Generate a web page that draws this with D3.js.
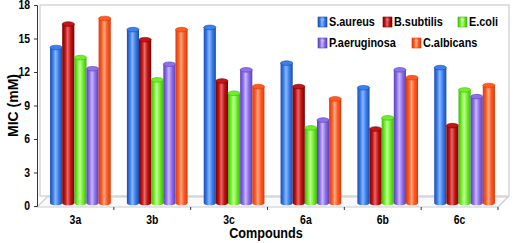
<!DOCTYPE html>
<html>
<head>
<meta charset="utf-8">
<script src="https://cdn.jsdelivr.net/npm/d3@7"></script>
<style>
  body { margin: 0; background: #fff; }
  #chart { width: 520px; height: 243px; }
  text { font-family: "Liberation Sans", Arial, sans-serif; font-weight: bold; fill: #000; }
</style>
</head>
<body>
<div id="chart"></div>
<script>
// chart data
const compounds = ['3a', '3b', '3c', '6a', '6b', '6c'];
const organisms = ['S.aureus', 'B.subtilis', 'E.coli', 'P.aeruginosa', 'C.albicans'];
const sAureus = [14.4, 16.0, 16.2, 13.0, 10.8, 12.6];
const bSubtilis = [16.5, 15.1, 11.4, 10.9, 7.1, 7.4];
const eColi = [13.5, 11.5, 10.3, 7.2, 8.1, 10.6];
const pAeruginosa = [12.5, 12.9, 12.4, 7.9, 12.4, 10.0];
const cAlbicans = [17.0, 16.0, 10.9, 9.8, 11.7, 11.0];
const yTicks = [0, 3, 6, 9, 12, 15, 18];

const seriesValues = [sAureus, bSubtilis, eColi, pAeruginosa, cAlbicans];

// colours: [edge, mid, highlight]
const colors = [
  ['#1c4aa8', '#3b80ee', '#8ab6ff'],
  ['#7a0000', '#c41414', '#e66a6a'],
  ['#3fb80c', '#70f02a', '#c4ff9a'],
  ['#5a3fb8', '#8d70ea', '#c9b8ff'],
  ['#d93a0c', '#ff5a22', '#ffab88']
];

const width = 520;
const height = 243;
const margin = { top: 5, right: 12, bottom: 37, left: 37 };
const depth = { dx: 10, dy: -10 };
const squeeze = 0.87; // the picture's text is a bit narrow

const svg = d3.select('#chart').append('svg')
  .attr('width', width)
  .attr('height', height);

const defs = svg.append('defs');
colors.forEach((c, i) => {
  const g = defs.append('linearGradient')
    .attr('id', 'grad' + i)
    .attr('x1', '0%').attr('x2', '100%').attr('y1', '0%').attr('y2', '0%');
  g.append('stop').attr('offset', '0%').attr('stop-color', c[0]);
  g.append('stop').attr('offset', '25%').attr('stop-color', c[1]);
  g.append('stop').attr('offset', '45%').attr('stop-color', c[2]);
  g.append('stop').attr('offset', '70%').attr('stop-color', c[1]);
  g.append('stop').attr('offset', '100%').attr('stop-color', c[0]);
});

const x0 = d3.scaleBand()
  .domain(compounds)
  .range([margin.left, width - margin.right - depth.dx])
  .paddingInner(0.21)
  .paddingOuter(0.105);

const x1 = d3.scaleBand()
  .domain(organisms)
  .range([0, x0.bandwidth()]);

const y = d3.scaleLinear()
  .domain([0, 18])
  .range([height - margin.bottom, margin.top]);

const y0 = y(0);
const xr = width - margin.right - depth.dx;

// back wall and floor
const wallColor = '#c8ccd0';
svg.append('rect')
  .attr('x', margin.left + 3)
  .attr('y', margin.top)
  .attr('width', width - margin.right - margin.left - 3 + 1)
  .attr('height', y0 + depth.dy - margin.top)
  .attr('fill', 'none')
  .attr('stroke', wallColor)
  .attr('stroke-width', 1.2);

svg.append('path')
  .attr('d', `M${margin.left},${y0 + 1}L${margin.left + depth.dx},${y0 + 1 + depth.dy}L${xr + depth.dx},${y0 + 1 + depth.dy}L${xr},${y0 + 1}Z`)
  .attr('fill', '#fafafa')
  .attr('stroke', wallColor)
  .attr('stroke-width', 1.2);

// bars as cylinders
const groups = svg.append('g')
  .selectAll('g')
  .data(compounds)
  .enter()
  .append('g')
  .attr('transform', d => `translate(${x0(d) + 5}, 0)`);

groups.selectAll('g.bar')
  .data((d, ci) => organisms.map((o, si) => ({ o, si, v: seriesValues[si][ci] })))
  .enter()
  .append('g')
  .attr('class', 'bar')
  .each(function (d) {
    const g = d3.select(this);
    const bw = x1.bandwidth();
    const bx = x1(d.o);
    const ry = 2.3;
    const top = y(d.v) + ry;
    const bottom = y0 - 3;
    g.append('path')
      .attr('d', `M${bx},${top}L${bx},${bottom}A${bw / 2},${ry} 0 0 0 ${bx + bw},${bottom}L${bx + bw},${top}Z`)
      .attr('fill', `url(#grad${d.si})`);
    g.append('ellipse')
      .attr('cx', bx + bw / 2)
      .attr('cy', top)
      .attr('rx', bw / 2)
      .attr('ry', ry)
      .attr('fill', colors[d.si][1])
      .attr('stroke', colors[d.si][0])
      .attr('stroke-width', 0.6);
  });

// narrow the text horizontally about its anchor point
function squeezeText(sel) {
  sel.each(function () {
    const t = d3.select(this);
    const tx = +t.attr('x') || 0;
    const ty = +t.attr('y') || 0;
    t.attr('x', null).attr('y', null)
      .attr('transform', `translate(${tx},${ty}) scale(${squeeze},1)`);
  });
}

// y axis
const yAxis = svg.append('g')
  .attr('transform', `translate(${margin.left}, 0)`)
  .call(d3.axisLeft(y).tickValues(yTicks).tickSize(3).tickPadding(4));
yAxis.select('.domain').attr('stroke', '#333').attr('stroke-width', 1);
yAxis.selectAll('.tick line').attr('stroke', '#333');
yAxis.selectAll('text')
  .style('font-family', '"Liberation Sans", Arial, sans-serif')
  .style('font-weight', 'bold')
  .style('font-size', '12px')
  .attr('fill', '#000')
  .call(squeezeText);

// x axis
const xAxis = svg.append('g')
  .attr('transform', `translate(0, ${y0 + 1})`)
  .call(d3.axisBottom(x0).tickSize(0).tickPadding(8));
xAxis.select('.domain').remove();
xAxis.selectAll('text')
  .style('font-family', '"Liberation Sans", Arial, sans-serif')
  .style('font-weight', 'bold')
  .style('font-size', '12px')
  .attr('fill', '#000')
  .call(squeezeText);

// category dividers on the x axis
svg.append('g')
  .selectAll('line')
  .data(compounds.slice(1).concat(['end']))
  .enter()
  .append('line')
  .attr('x1', (d, i) => margin.left + (i + 1) * x0.step())
  .attr('x2', (d, i) => margin.left + (i + 1) * x0.step())
  .attr('y1', y0 + 1)
  .attr('y2', y0 + 4)
  .attr('stroke', '#333');

// axis titles
svg.append('text')
  .attr('transform', `translate(18, ${(y(18) + y0) / 2}) rotate(-90)`)
  .attr('text-anchor', 'middle')
  .style('font-size', '14px')
  .text('MIC (mM)');

svg.append('text')
  .attr('x', 266)
  .attr('y', 238)
  .attr('text-anchor', 'middle')
  .style('font-size', '14.5px')
  .text('Compounds')
  .call(squeezeText);

// legend
const legendPos = [
  [318, 22], [383, 22], [458, 22],
  [318, 43], [412, 43]
];
const legend = svg.append('g')
  .selectAll('g')
  .data(organisms)
  .enter()
  .append('g')
  .attr('transform', (d, i) => `translate(${legendPos[i][0]}, ${legendPos[i][1]})`);

legend.append('rect')
  .attr('x', 0)
  .attr('y', -5)
  .attr('width', 9)
  .attr('height', 10)
  .attr('fill', (d, i) => `url(#grad${i})`)
  .attr('stroke', (d, i) => colors[i][0])
  .attr('stroke-width', 0.6);

legend.append('path')
  .attr('d', 'M2.5,-3L6.5,-3L4.5,0Z')
  .attr('fill', (d, i) => colors[i][2]);

legend.append('text')
  .attr('x', 11)
  .attr('y', 4.3)
  .style('font-size', '12.5px')
  .text(d => d)
  .call(squeezeText);
</script>
</body>
</html>
